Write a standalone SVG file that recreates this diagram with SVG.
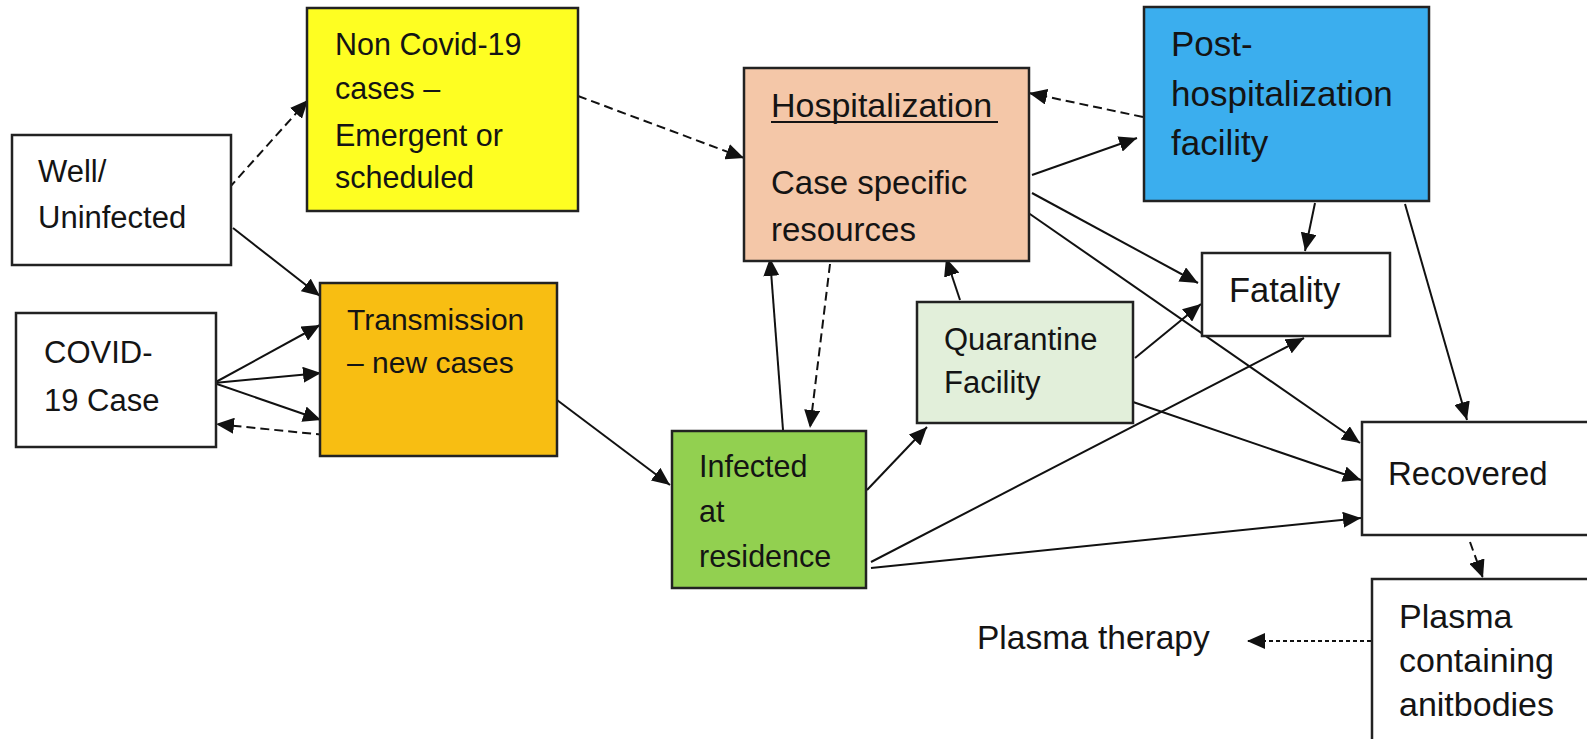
<svg xmlns="http://www.w3.org/2000/svg" width="1587" height="739" viewBox="0 0 1587 739">
<style>
.box{stroke:#222;stroke-width:2.5}
.t{font-family:"Liberation Sans",Arial,sans-serif;fill:#141414}
.c{stroke:#111;stroke-width:2;fill:none}
.dash{stroke-dasharray:9 5}
.dot{stroke-dasharray:4 3}
</style>
<defs>
<marker id="ah" markerUnits="userSpaceOnUse" markerWidth="19" markerHeight="16" refX="18" refY="8" orient="auto">
<path d="M0,0 L18,8 L0,16 z" fill="#111"/>
</marker>
</defs>
<rect width="1587" height="739" fill="#fff"/>
<g id="connectors">
<line class="c dash" x1="229" y1="188" x2="308" y2="100" marker-end="url(#ah)"/>
<line class="c" x1="233" y1="228" x2="320" y2="296" marker-end="url(#ah)"/>
<line class="c" x1="214" y1="383" x2="320" y2="325" marker-end="url(#ah)"/>
<line class="c" x1="214" y1="383" x2="321" y2="373" marker-end="url(#ah)"/>
<line class="c" x1="214" y1="383" x2="321" y2="420" marker-end="url(#ah)"/>
<line class="c dash" x1="325" y1="435" x2="216" y2="424" marker-end="url(#ah)"/>
<line class="c dash" x1="578" y1="96" x2="744" y2="158" marker-end="url(#ah)"/>
<line class="c" x1="557" y1="400" x2="670" y2="485" marker-end="url(#ah)"/>
<line class="c" x1="783" y1="430" x2="770" y2="258" marker-end="url(#ah)"/>
<line class="c dash" x1="830" y1="264" x2="810" y2="428" marker-end="url(#ah)"/>
<line class="c" x1="867" y1="490" x2="927" y2="427" marker-end="url(#ah)"/>
<line class="c" x1="960" y1="300" x2="946" y2="258" marker-end="url(#ah)"/>
<line class="c dash" x1="1143" y1="117" x2="1029" y2="93" marker-end="url(#ah)"/>
<line class="c" x1="1032" y1="175" x2="1137" y2="138" marker-end="url(#ah)"/>
<line class="c" x1="1032" y1="193" x2="1198" y2="283" marker-end="url(#ah)"/>
<line class="c" x1="1027" y1="212" x2="1360" y2="443" marker-end="url(#ah)"/>
<line class="c" x1="1315" y1="203" x2="1305" y2="251" marker-end="url(#ah)"/>
<line class="c" x1="1405" y1="204" x2="1467" y2="420" marker-end="url(#ah)"/>
<line class="c" x1="1135" y1="358" x2="1201" y2="304" marker-end="url(#ah)"/>
<line class="c" x1="1133" y1="402" x2="1361" y2="480" marker-end="url(#ah)"/>
<line class="c" x1="871" y1="562" x2="1304" y2="338" marker-end="url(#ah)"/>
<line class="c" x1="871" y1="568" x2="1361" y2="518" marker-end="url(#ah)"/>
<line class="c dash" x1="1470" y1="542" x2="1483" y2="578" marker-end="url(#ah)"/>
<line class="c dot" x1="1371" y1="641" x2="1247" y2="641" marker-end="url(#ah)"/>
</g>
<g id="well">
<rect class="box" x="12" y="135" width="219" height="130" fill="#fff"/>
<text class="t" font-size="31"><tspan x="38" y="182">Well/</tspan><tspan x="38" y="228">Uninfected</tspan></text>
</g>
<g id="noncovid">
<rect class="box" x="307" y="8" width="271" height="203" fill="#FEFE22"/>
<text class="t" font-size="30.5"><tspan x="335" y="55">Non Covid-19</tspan><tspan x="335" y="99">cases –</tspan><tspan x="335" y="146">Emergent or</tspan><tspan x="335" y="188">scheduled</tspan></text>
</g>
<g id="covid">
<rect class="box" x="16" y="313" width="200" height="134" fill="#fff"/>
<text class="t" font-size="31"><tspan x="44" y="363">COVID-</tspan><tspan x="44" y="411">19 Case</tspan></text>
</g>
<g id="transmission">
<rect class="box" x="320" y="283" width="237" height="173" fill="#F8BE12"/>
<text class="t" font-size="30"><tspan x="347" y="330">Transmission</tspan><tspan x="347" y="373">– new cases</tspan></text>
</g>
<g id="hospitalization">
<rect class="box" x="744" y="68" width="285" height="193" fill="#F4C7A8"/>
<text class="t" font-size="34" x="771" y="117">Hospitalization</text>
<text class="t" font-size="33"><tspan x="771" y="194">Case specific</tspan><tspan x="771" y="241">resources</tspan></text>
<line x1="771" y1="122" x2="998" y2="122" stroke="#141414" stroke-width="2"/>
</g>
<g id="post">
<rect class="box" x="1144" y="7" width="285" height="194" fill="#3BAEEE"/>
<text class="t" font-size="35"><tspan x="1171" y="56">Post-</tspan><tspan x="1171" y="106">hospitalization</tspan><tspan x="1171" y="155">facility</tspan></text>
</g>
<g id="fatality">
<rect class="box" x="1202" y="253" width="188" height="83" fill="#fff"/>
<text class="t" font-size="34.5" x="1229" y="302">Fatality</text>
</g>
<g id="quarantine">
<rect class="box" x="917" y="302" width="216" height="121" fill="#E2EFDA"/>
<text class="t" font-size="31"><tspan x="944" y="350">Quarantine</tspan><tspan x="944" y="393">Facility</tspan></text>
</g>
<g id="infected">
<rect class="box" x="672" y="431" width="194" height="157" fill="#92D050"/>
<text class="t" font-size="30.5"><tspan x="699" y="477">Infected</tspan><tspan x="699" y="522">at</tspan><tspan x="699" y="567">residence</tspan></text>
</g>
<g id="recovered">
<rect class="box" x="1362" y="422" width="260" height="113" fill="#fff"/>
<text class="t" font-size="33" x="1388" y="485">Recovered</text>
</g>
<g id="plasma">
<rect class="box" x="1372" y="579" width="250" height="200" fill="#fff"/>
<text class="t" font-size="34"><tspan x="1399" y="628">Plasma</tspan><tspan x="1399" y="672">containing</tspan><tspan x="1399" y="716">anitbodies</tspan></text>
</g>
<g id="therapy">
<text class="t" font-size="33.5" x="977" y="649">Plasma therapy</text>
</g>
</svg>
